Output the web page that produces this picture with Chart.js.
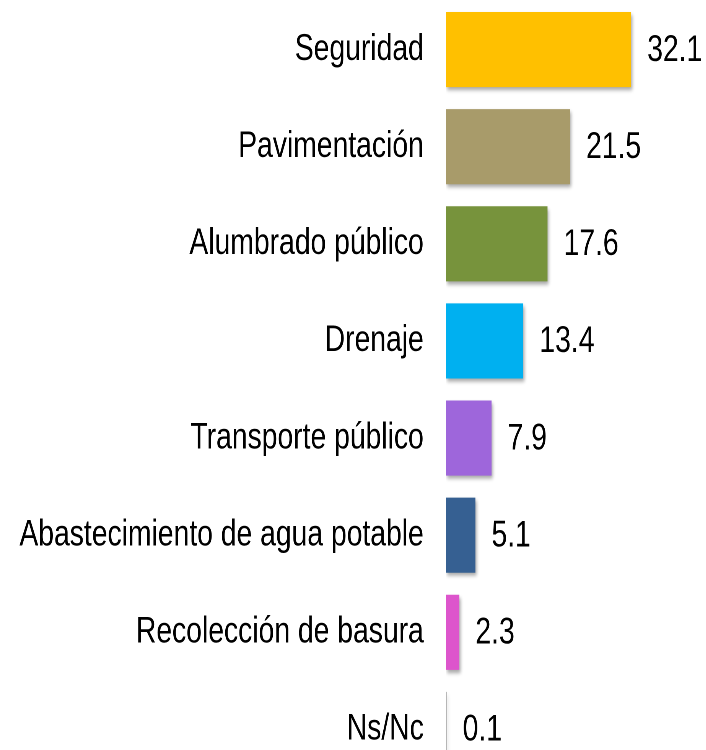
<!DOCTYPE html>
<html>
<head>
<meta charset="utf-8">
<script src="https://cdn.jsdelivr.net/npm/chart.js@4/dist/chart.umd.min.js"></script>
<style>
  html, body { margin: 0; padding: 0; background: #fff; overflow: hidden; width: 706px; height: 750px; }
  #wrap { position: absolute; left: 0; top: 0; width: 923px; height: 778px; transform: scaleX(0.765); transform-origin: 0 0; }
  canvas { display: block; }
</style>
</head>
<body>
<div id="wrap"><canvas id="c" width="923" height="778"></canvas></div>
<script>
const categories = ["Seguridad", "Pavimentación", "Alumbrado público", "Drenaje", "Transporte público", "Abastecimiento de agua potable", "Recolección de basura", "Ns/Nc"];
const values = [32.1, 21.5, 17.6, 13.4, 7.9, 5.1, 2.3, 0.1];
const valueLabels = ["32.1", "21.5", "17.6", "13.4", "7.9", "5.1", "2.3", "0.1"];
const colors = ["#FFC000", "#A89B6A", "#77933C", "#00B0F0", "#9E66DB", "#366092", "#DD55CC", "#8C8C8C"];

const FONT = '"Liberation Sans", Arial, sans-serif';

const shadowPlugin = {
  id: 'shadow',
  beforeDatasetsDraw(chart) {
    const ctx = chart.ctx;
    ctx.save();
    ctx.shadowColor = 'rgba(0,0,0,0.35)';
    ctx.shadowBlur = 8;
    ctx.shadowOffsetX = 3;
    ctx.shadowOffsetY = 6;
  },
  afterDatasetsDraw(chart) {
    chart.ctx.restore();
  }
};

const valuePlugin = {
  id: 'values',
  afterDraw(chart) {
    const ctx = chart.ctx;
    const meta = chart.getDatasetMeta(0);
    ctx.save();
    ctx.font = '37px ' + FONT;
    ctx.fillStyle = '#000';
    ctx.textAlign = 'left';
    ctx.textBaseline = 'middle';
    meta.data.forEach((bar, i) => {
      ctx.fillText(valueLabels[i], bar.x + 21, bar.y + 1);
    });
    ctx.restore();
  }
};

new Chart(document.getElementById('c'), {
  type: 'bar',
  data: {
    labels: categories,
    datasets: [{
      data: values,
      backgroundColor: colors,
      borderWidth: 0,
      categoryPercentage: 1,
      barPercentage: 0.773
    }]
  },
  options: {
    indexAxis: 'y',
    responsive: false,
    animation: false,
    devicePixelRatio: 2,
    layout: { padding: { top: 1, right: 0, bottom: 0, left: 0 } },
    plugins: { legend: { display: false }, tooltip: { enabled: false } },
    scales: {
      x: { display: false, min: 0, max: 45.1 },
      y: {
        grid: { display: false, drawTicks: false },
        border: { display: false },
        ticks: {
          color: '#000',
          font: { family: FONT, size: 37 },
          padding: 29,
          autoSkip: false
        },
        afterFit(scale) {
          scale.width = 583;
          scale.paddingTop = 0;
          scale.paddingBottom = 0;
        }
      }
    }
  },
  plugins: [shadowPlugin, valuePlugin]
});
</script>
</body>
</html>
